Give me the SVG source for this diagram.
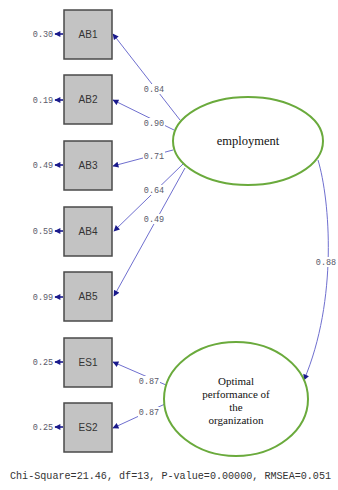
<svg xmlns="http://www.w3.org/2000/svg" width="338" height="490" viewBox="0 0 338 490">
<defs>
<marker id="ah" viewBox="0 0 10 10" refX="9" refY="5" markerWidth="7" markerHeight="6" orient="auto" markerUnits="userSpaceOnUse">
<path d="M0,0 L10,5 L0,10 z" fill="#1a1a8c"/>
</marker>
<style>
.box{fill:#c3c3c3;stroke:#4a4a4a;stroke-width:1.5}
.bl{font-family:"Liberation Sans",Arial,sans-serif;font-size:10px;fill:#333;text-anchor:middle}
.num{font-family:"Liberation Mono","Courier New",monospace;font-size:8.5px;fill:#5a5a6a;text-anchor:middle}
.err{stroke:#1a1a8c;stroke-width:1.6;marker-end:url(#ah)}
.pth{stroke:#6f6fcf;stroke-width:1;fill:none;marker-end:url(#ah)}
.lat{fill:#fff;stroke:#6aaa3c;stroke-width:2}
.lt{font-family:"Liberation Serif","Times New Roman",serif;fill:#111;text-anchor:middle}
.bg{fill:#fff}
</style>
</defs>
<rect width="338" height="490" fill="#fff"/>
<g id="connectors">
<line class="err" x1="63" y1="34" x2="55" y2="34"/>
<line class="err" x1="63" y1="100" x2="55" y2="100"/>
<line class="err" x1="63" y1="165" x2="55" y2="165"/>
<line class="err" x1="63" y1="231" x2="55" y2="231"/>
<line class="err" x1="63" y1="297" x2="55" y2="297"/>
<line class="err" x1="63" y1="362" x2="55" y2="362"/>
<line class="err" x1="63" y1="427" x2="55" y2="427"/>
<line class="pth" x1="180" y1="120" x2="113" y2="34"/>
<line class="pth" x1="174" y1="130" x2="113" y2="100"/>
<line class="pth" x1="173" y1="150" x2="113" y2="166"/>
<line class="pth" x1="183" y1="164" x2="114" y2="231"/>
<line class="pth" x1="185" y1="168" x2="114" y2="296"/>
<line class="pth" x1="166" y1="385" x2="113" y2="362"/>
<line class="pth" x1="165" y1="404" x2="113" y2="428"/>
<path class="pth" d="M318,160 C330,200 338,300 304,380"/>
<rect class="bg" x="143" y="84" width="22" height="10"/>
<rect class="bg" x="143" y="118" width="22" height="10"/>
<rect class="bg" x="143" y="151" width="22" height="10"/>
<rect class="bg" x="143" y="185" width="22" height="10"/>
<rect class="bg" x="143" y="214" width="22" height="10"/>
<rect class="bg" x="138" y="376" width="22" height="10"/>
<rect class="bg" x="138" y="407" width="22" height="10"/>
<rect class="bg" x="315" y="257" width="22" height="10"/>
<text class="num" x="154" y="92">0.84</text>
<text class="num" x="154" y="126">0.90</text>
<text class="num" x="154" y="159">0.71</text>
<text class="num" x="154" y="193">0.64</text>
<text class="num" x="154" y="222">0.49</text>
<text class="num" x="149" y="384">0.87</text>
<text class="num" x="149" y="415">0.87</text>
<text class="num" x="326" y="265">0.88</text>
</g>
<g id="AB1"><rect class="box" x="64" y="10" width="48" height="49"/><text class="bl" x="88" y="38">AB1</text><text class="num" x="43" y="37">0.30</text></g>
<g id="AB2"><rect class="box" x="64" y="75" width="48" height="49"/><text class="bl" x="88" y="103">AB2</text><text class="num" x="43" y="103">0.19</text></g>
<g id="AB3"><rect class="box" x="64" y="141" width="48" height="49"/><text class="bl" x="88" y="169">AB3</text><text class="num" x="43" y="168">0.49</text></g>
<g id="AB4"><rect class="box" x="64" y="207" width="48" height="49"/><text class="bl" x="88" y="235">AB4</text><text class="num" x="43" y="234">0.59</text></g>
<g id="AB5"><rect class="box" x="64" y="272" width="48" height="49"/><text class="bl" x="88" y="300">AB5</text><text class="num" x="43" y="300">0.99</text></g>
<g id="ES1"><rect class="box" x="64" y="338" width="48" height="49"/><text class="bl" x="88" y="366">ES1</text><text class="num" x="43" y="365">0.25</text></g>
<g id="ES2"><rect class="box" x="64" y="403" width="48" height="49"/><text class="bl" x="88" y="431">ES2</text><text class="num" x="43" y="430">0.25</text></g>
<g id="employment"><ellipse class="lat" cx="248" cy="141" rx="75" ry="44"/><text class="lt" x="248" y="145" font-size="12.5">employment</text></g>
<g id="optimal"><ellipse class="lat" cx="236" cy="399" rx="72" ry="57"/>
<text class="lt" x="236" y="385" font-size="11">Optimal</text>
<text class="lt" x="236" y="398" font-size="11">performance of</text>
<text class="lt" x="236" y="411" font-size="11">the</text>
<text class="lt" x="236" y="424" font-size="11">organization</text></g>
<text x="10" y="479" font-family="Liberation Mono,'Courier New',monospace" font-size="10.1" fill="#333">Chi-Square=21.46, df=13, P-value=0.00000, RMSEA=0.051</text>
</svg>
